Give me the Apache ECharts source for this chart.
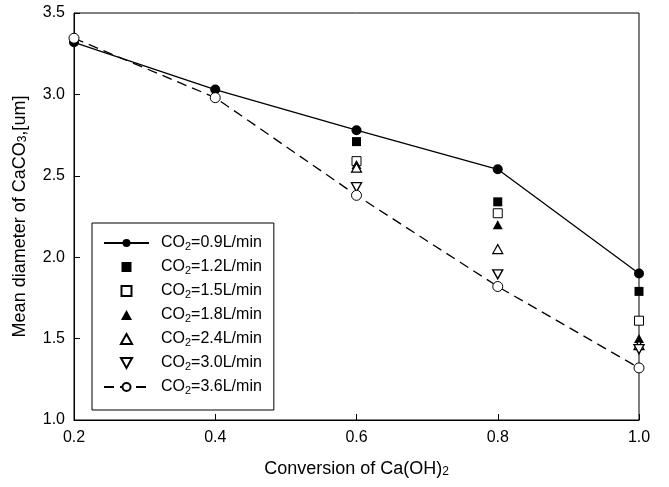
<!DOCTYPE html>
<html>
<head>
<meta charset="utf-8">
<title>Mean diameter of CaCO3</title>
<script src="https://cdn.jsdelivr.net/npm/echarts@6/dist/echarts.min.js"></script>
<style>
  html, body { margin: 0; padding: 0; background: #fff; }
  #main { width: 669px; height: 487px; }
</style>
</head>
<body>
<div id="main"></div>
<script>
// conversion of Ca(OH)2 (x axis)
var conversion = [0.2, 0.4, 0.6, 0.8, 1.0];
var yTicks = [1.0, 1.5, 2.0, 2.5, 3.0, 3.5];

// mean diameter [um], one array per CO2 flow rate (null = no point)
var co2_09 = [3.32, 3.03, 2.78, 2.54, 1.90];
var co2_12 = [null, null, 2.71, 2.34, 1.79];
var co2_15 = [null, null, 2.59, 2.27, 1.61];
var co2_18 = [null, null, 2.57, 2.20, 1.50];
var co2_24 = [null, null, 2.55, 2.05, 1.46];
var co2_30 = [null, null, 2.43, 1.895, 1.435];
var co2_36 = [3.345, 2.98, 2.38, 1.82, 1.32];

var rates = ["0.9", "1.2", "1.5", "1.8", "2.4", "3.0", "3.6"];

function pairs(arr) {
  var out = [];
  for (var i = 0; i < arr.length; i++) {
    if (arr[i] !== null) out.push([conversion[i], arr[i]]);
  }
  return out;
}

// path symbols so the legend keeps their aspect
var square = "path://M0,0 L10,0 L10,10 L0,10 Z";
var tri = "path://M5,0 L10,9 L0,9 Z";
var invTri = "path://M0,0 L10,0 L5,9 Z";
var black = "#000";

var chart = echarts.init(document.getElementById("main"));

var option = {
  backgroundColor: "#fff",
  animation: false,
  textStyle: { fontFamily: "Liberation Sans, Arial, sans-serif", color: black },
  grid: {
    left: 74,
    right: 30,
    top: 13,
    bottom: 67,
    show: true,
    borderColor: black,
    borderWidth: 1,
  },
  legend: {
    orient: "vertical",
    left: 92,
    bottom: 77,
    backgroundColor: "#fff",
    borderColor: black,
    borderWidth: 1,
    borderRadius: 0,
    padding: [12, 12, 14, 11],
    itemWidth: 45,
    itemHeight: 10,
    itemGap: 7,
    symbolKeepAspect: true,
    data: rates.map(function (r) { return "CO2=" + r + "L/min"; }),
    formatter: function (name) {
      var rate = name.replace("CO2=", "");
      return "{p|}{a|CO}{s|2}{a|=" + rate + "}";
    },
    textStyle: {
      rich: {
        p: { width: 7 },
        a: { fontSize: 16, lineHeight: 18, color: black },
        s: { fontSize: 11, lineHeight: 10, verticalAlign: "bottom", color: black },
      },
    },
  },
  xAxis: {
    type: "value",
    min: 0.2,
    max: 1.0,
    interval: 0.2,
    name: "Conversion of Ca(OH){s|2}",
    nameLocation: "middle",
    nameGap: 40,
    nameTextStyle: {
      fontSize: 18,
      color: black,
      rich: { s: { fontSize: 12, lineHeight: 12, verticalAlign: "bottom", color: black } },
    },
    axisLine: { lineStyle: { color: black, width: 1 } },
    axisTick: { inside: true, length: 6, lineStyle: { color: black } },
    axisLabel: {
      fontSize: 16,
      color: black,
      margin: 10,
      formatter: function (v) { return v.toFixed(1); },
    },
    splitLine: { show: false },
  },
  yAxis: {
    type: "value",
    min: yTicks[0],
    max: yTicks[yTicks.length - 1],
    interval: 0.5,
    name: "Mean diameter of CaCO{s|3},[um]",
    nameLocation: "middle",
    nameGap: 45,
    nameTextStyle: {
      fontSize: 18,
      color: black,
      rich: { s: { fontSize: 12, lineHeight: 12, verticalAlign: "bottom", color: black } },
    },
    axisLine: { show: true, lineStyle: { color: black, width: 1 } },
    axisTick: { show: true, inside: true, length: 6, lineStyle: { color: black } },
    axisLabel: {
      fontSize: 16,
      color: black,
      margin: 9,
      formatter: function (v) { return v.toFixed(1); },
    },
    splitLine: { show: false },
  },
  series: [
    {
      name: "CO2=0.9L/min",
      type: "line",
      data: pairs(co2_09),
      symbol: "circle",
      symbolSize: 10,
      itemStyle: { color: black },
      lineStyle: { color: black, width: 1.3 },
      z: 3,
    },
    {
      name: "CO2=1.2L/min",
      type: "scatter",
      data: pairs(co2_12),
      symbol: square,
      symbolSize: 9,
      itemStyle: { color: black, opacity: 1 },
    },
    {
      name: "CO2=1.5L/min",
      type: "scatter",
      data: pairs(co2_15),
      symbol: square,
      symbolSize: 9,
      itemStyle: { color: "#fff", borderColor: black, borderWidth: 1, opacity: 1 },
    },
    {
      name: "CO2=1.8L/min",
      type: "scatter",
      data: pairs(co2_18),
      symbol: tri,
      symbolSize: [10, 9],
      itemStyle: { color: black, opacity: 1 },
    },
    {
      name: "CO2=2.4L/min",
      type: "scatter",
      data: pairs(co2_24),
      symbol: tri,
      symbolSize: [10, 9],
      itemStyle: { color: "#fff", borderColor: black, borderWidth: 1.2, opacity: 1 },
    },
    {
      name: "CO2=3.0L/min",
      type: "scatter",
      data: pairs(co2_30),
      symbol: invTri,
      symbolSize: [10, 9],
      itemStyle: { color: "#fff", borderColor: black, borderWidth: 1.4, opacity: 1 },
    },
    {
      name: "CO2=3.6L/min",
      type: "line",
      data: pairs(co2_36),
      symbol: "circle",
      symbolSize: 10,
      itemStyle: { color: "#fff", borderColor: black, borderWidth: 1 },
      lineStyle: { color: black, width: 1.3, type: [10, 6] },
      z: 4,
    },
  ],
};

chart.setOption(option);
</script>
</body>
</html>
